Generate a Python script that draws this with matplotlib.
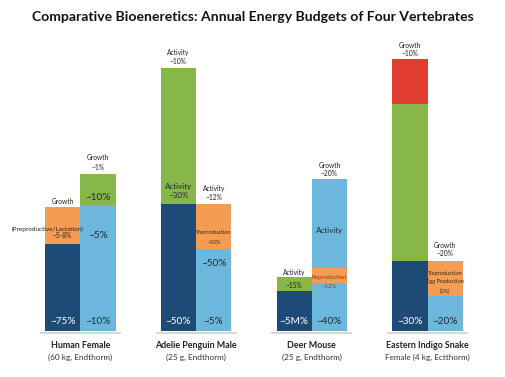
import matplotlib
matplotlib.use("Agg")
import matplotlib.pyplot as plt
import matplotlib.transforms as mtransforms
import numpy as np

plt.rcParams['font.family'] = ['Lato', 'DejaVu Sans']

# ---- data ----
categories = ["Human Female", "Adelie Penguin Male", "Deer Mouse", "Eastern Indigo Snake"]
subtitles = ["(60 kg, Endthorm)", "(25 g, Endthorm)", "(25 g, Endthorm)", "Female (4 kg, Ectthorm)"]

left_base = [87, 127, 40, 70]          # dark navy
left_second = [37, 136, 14, 157]
left_second_kind = ["orange", "green", "green", "green"]
left_third = [0, 0, 0, 45]             # red

right_base = [125, 82, 48, 35]         # light blue
right_second = [32, 45, 15, 35]
right_second_kind = ["green", "orange", "orange", "orange"]
right_third = [0, 0, 89, 0]            # light blue

# labels: (group, side, y, text, style)
labels = [
    (0, "L", 130, "Growth", "small"),
    (0, "L", 95, "~5-8%", "small"),
    (0, "L", 9, "~75%", "white"),
    (0, "R", 173, "Growth", "small"),
    (0, "R", 164, "~1%", "small"),
    (0, "R", 134, "~10%", "big"),
    (0, "R", 95, "~5%", "big"),
    (0, "R", 9, "~10%", "big"),
    (1, "L", 278, "Activity", "small"),
    (1, "L", 269, "~10%", "small"),
    (1, "L", 145, "Activity", "mid"),
    (1, "L", 136, "~30%", "mid"),
    (1, "L", 9, "~50%", "white"),
    (1, "R", 143, "Activity", "small"),
    (1, "R", 134, "~12%", "small"),
    (1, "R", 98, "Therroduation", "tiny"),
    (1, "R", 89, "~10%", "tiny"),
    (1, "R", 68, "~50%", "big"),
    (1, "R", 9, "~5%", "big"),
    (2, "L", 59, "Activity", "small"),
    (2, "L", 46, "~15%", "small"),
    (2, "L", 9, "~5M%", "white"),
    (2, "R", 166, "Growth", "small"),
    (2, "R", 157, "~20%", "small"),
    (2, "R", 100, "Activity", "mid"),
    (2, "R", 54, "Reproduction", "tinyo"),
    (2, "R", 45, "~12%", "tinyo"),
    (2, "R", 9, "~40%", "big"),
    (3, "L", 286, "Growth", "small"),
    (3, "L", 277, "~10%", "small"),
    (3, "L", 9, "~30%", "white"),
    (3, "R", 86, "Growth", "small"),
    (3, "R", 77, "~20%", "small"),
    (3, "R", 57, "Tieproduction", "tiny"),
    (3, "R", 49, "Egg Production", "tiny"),
    (3, "R", 40, "(0%)", "tiny"),
    (3, "R", 9, "~20%", "big"),
]

colors = {
    "navy": "#1d4a77",
    "light": "#6cb8dc",
    "orange": "#f49d52",
    "green": "#87b748",
    "red": "#e03c30",
}

fig = plt.figure(figsize=(5.06, 3.77), dpi=100)
ax = fig.add_axes([0, 46 / 377, 1, 291 / 377])
ax.set_xlim(-0.693, 3.676)
ax.set_ylim(0, 291)
ax.axis("off")

x = np.arange(len(categories))
w = 0.305
off = 0.152
xl = x - off
xr = x + off

ax.bar(xl, left_base, w, color=colors["navy"], linewidth=0)
ax.bar(xl, left_second, w, bottom=left_base,
       color=[colors[k] for k in left_second_kind], linewidth=0)
ax.bar(xl, left_third, w, bottom=np.add(left_base, left_second),
       color=colors["red"], linewidth=0)

ax.bar(xr, right_base, w, color=colors["light"], linewidth=0)
ax.bar(xr, right_second, w, bottom=right_base,
       color=[colors[k] for k in right_second_kind], linewidth=0)
ax.bar(xr, right_third, w, bottom=np.add(right_base, right_second),
       color=colors["light"], linewidth=0)

for xi in x:
    ax.plot([xi - 0.35, xi + 0.35], [-1.5, -1.5], color="#cfcfcf", lw=1.2,
            clip_on=False, solid_capstyle="butt")

styles = {
    "small": dict(fontsize=4.8, color="#222222"),
    "mid": dict(fontsize=5.8, color="#1f2a36"),
    "big": dict(fontsize=7.2, color="#1f2a36"),
    "white": dict(fontsize=7.2, color="white"),
    "tiny": dict(fontsize=4.1, color="#3a2a1a"),
    "tinyo": dict(fontsize=4.3, color="#8a3d10"),
}
for g, side, y, txt, st in labels:
    xx = xl[g] if side == "L" else xr[g]
    ax.text(xx, y, txt, ha="center", va="center", **styles[st])

# extra label outside bar for human female
ax.text(xl[0] - 0.13, 102, "(Preproductive/Lactation)", ha="center", va="center",
        fontsize=4.6, color="#222222")

trans = mtransforms.blended_transform_factory(ax.transData, fig.transFigure)
for xi, c, s in zip(x, categories, subtitles):
    ax.text(xi, 1 - 346 / 377, c, ha="center", va="center", fontsize=6.4,
            fontweight="bold", color="#222222", transform=trans)
    ax.text(xi, 1 - 357 / 377, s, ha="center", va="center", fontsize=5.9,
            color="#333333", transform=trans)

fig.text(0.5, 1 - 17 / 377,
         "Comparative Bioeneretics: Annual Energy Budgets of Four Vertebrates",
         ha="center", va="center", fontsize=10.1, fontweight="bold", color="#111111")

fig.savefig("out.png", dpi=100, facecolor="white")
